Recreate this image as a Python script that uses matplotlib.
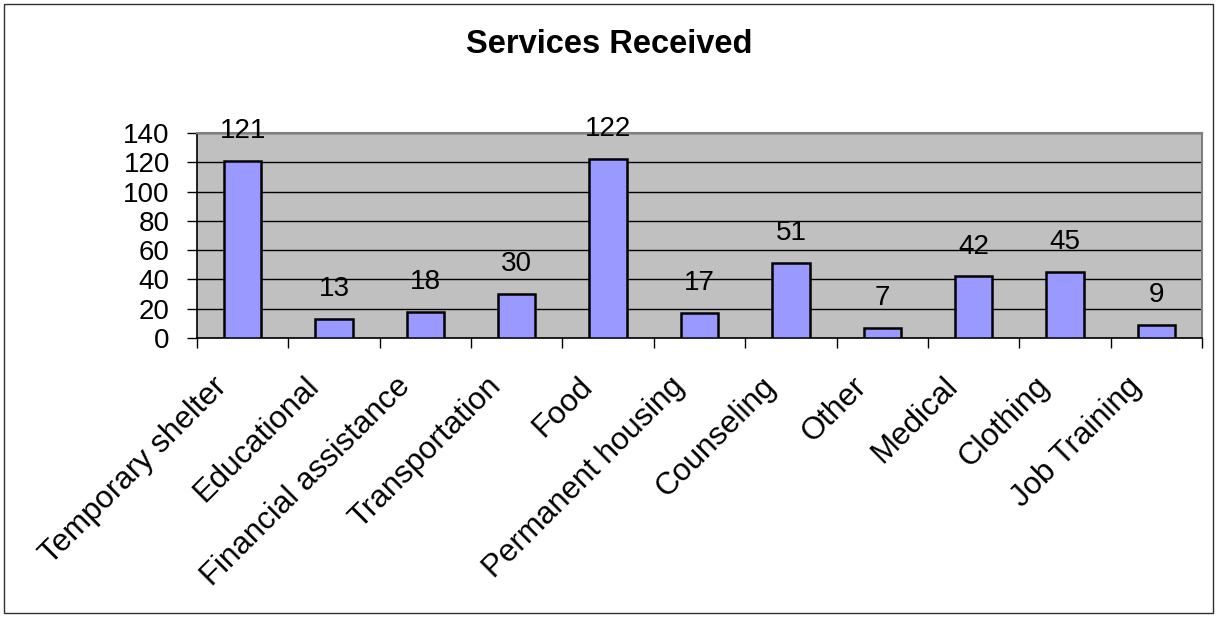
import numpy as np
import matplotlib.pyplot as plt
from matplotlib.patches import Rectangle

plt.rcParams['font.family'] = ['Liberation Sans', 'DejaVu Sans']

# data
categories = ["Temporary shelter", "Educational", "Financial assistance", "Transportation",
              "Food", "Permanent housing", "Counseling", "Other", "Medical", "Clothing",
              "Job Training"]
counts = [121, 13, 18, 30, 122, 17, 51, 7, 42, 45, 9]
yticks = [0, 20, 40, 60, 80, 100, 120, 140]

fig = plt.figure(figsize=(12.18, 6.19), dpi=100)
ax = fig.add_axes([0.1617, 0.454, 0.8252, 0.3311])

x = np.arange(len(categories))
ax.bar(x, counts, width=0.41, color='#9999FF', edgecolor='black', linewidth=1.8, zorder=3)

# value labels above each bar
for xi, v in zip(x, counts):
    ax.annotate(str(v), (xi, v), xytext=(0, 16.5), textcoords='offset points',
                ha='center', va='baseline', fontsize=20)

ax.set_xlim(-0.5, len(categories) - 0.5)
ax.set_ylim(0, 140)
ax.set_facecolor('#C0C0C0')
ax.set_yticks(yticks)
ax.set_yticklabels([str(t) for t in yticks], fontsize=20)
ax.yaxis.grid(True, color='black', linewidth=1.0, zorder=0)
ax.set_axisbelow(True)

# category ticks sit between bars
ax.set_xticks(np.arange(len(categories) + 1) - 0.5)
ax.set_xticklabels([])
ax.tick_params(axis='x', direction='out', length=7.5, width=1, color='black')
ax.tick_params(axis='y', direction='out', length=7.5, width=1, pad=12)

# rotated category names, Excel style (end of text left of the category centre)
for xi, name in zip(x, categories):
    ax.annotate(name, (xi, 0), xycoords=('data', 'axes fraction'),
                xytext=(-22, -24), textcoords='offset points',
                rotation=45, rotation_mode='anchor', ha='right', va='top',
                fontsize=22.5, annotation_clip=False)

for side in ['top', 'right']:
    ax.spines[side].set_color('#808080')
    ax.spines[side].set_linewidth(1.5)
for side in ['left', 'bottom']:
    ax.spines[side].set_color('black')
    ax.spines[side].set_linewidth(1.2)

fig.text(0.5, 0.9144, "Services Received", ha='center', va='baseline', fontsize=23.5,
         fontweight='bold')

# outer chart border
fig.patches.append(Rectangle((0.0029, 0.0089), 0.9934, 0.9854, transform=fig.transFigure,
                             fill=False, edgecolor='#303030', linewidth=1.0))

fig.savefig('out.png', dpi=100)
